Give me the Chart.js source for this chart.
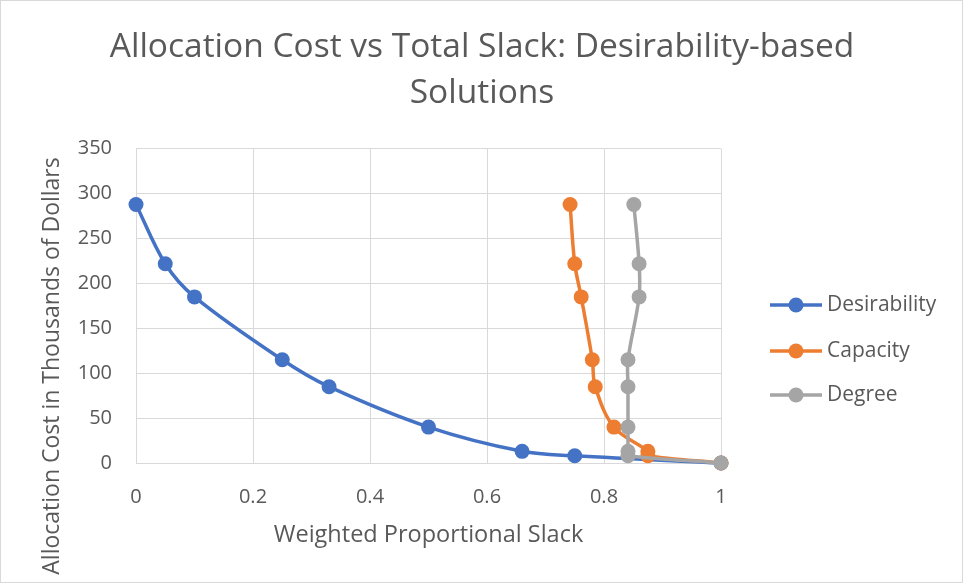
<!DOCTYPE html>
<html>
<head>
<meta charset="utf-8">
<script src="https://cdn.jsdelivr.net/npm/chart.js@4/dist/chart.umd.min.js"></script>
<style>
html,body{margin:0;padding:0;background:#fff;}
canvas{display:block;}
</style>
</head>
<body>
<canvas id="c" width="963" height="583"></canvas>
<script>
const costs = [288, 222, 185, 115, 85, 40, 13, 8, 0];
const desirabilitySlack = [0, 0.05, 0.1, 0.25, 0.33, 0.5, 0.66, 0.75, 1];
const capacitySlack = [0.742, 0.75, 0.761, 0.78, 0.785, 0.817, 0.875, 0.875, 1];
const degreeSlack = [0.851, 0.86, 0.86, 0.841, 0.841, 0.841, 0.841, 0.841, 1];
const seriesNames = ['Desirability', 'Capacity', 'Degree'];
const seriesColors = ['#4472c4', '#ed7d31', '#a5a5a5'];
const xTicks = [0, 0.2, 0.4, 0.6, 0.8, 1];
const yTicks = [0, 50, 100, 150, 200, 250, 300, 350];
const yTitle = 'Allocation Cost in Thousands of Dollars';

const FONT = 'Open Sans, Lato, sans-serif';
const txt = '#595959';
const grid = '#d9d9d9';

function pts(xs){ return xs.map((x,i)=>({x:x, y:costs[i]})); }
const allSlack = [desirabilitySlack, capacitySlack, degreeSlack];
const datasets = seriesNames.map((n,i)=>({
  label: n,
  data: pts(allSlack[i]),
  borderColor: seriesColors[i],
  backgroundColor: seriesColors[i],
  borderWidth: 3.5,
  pointRadius: 7.5,
  pointHoverRadius: 7.5,
  pointBorderWidth: 0,
  pointStyle: 'circle',
  showLine: true,
  tension: 0.35,
  clip: false,
  order: seriesNames.length - i
}));

const extras = {
  id: 'extras',
  afterDraw(chart){
    const ctx = chart.ctx;
    const ys = [305, 351, 395];
    ctx.save();
    chart.data.datasets.forEach((d,i)=>{
      const y = ys[i];
      ctx.strokeStyle = d.borderColor; ctx.lineWidth = 3.5;
      ctx.beginPath(); ctx.moveTo(770, y); ctx.lineTo(822, y); ctx.stroke();
      ctx.fillStyle = d.backgroundColor;
      ctx.beginPath(); ctx.arc(796, y, 7.5, 0, Math.PI*2); ctx.fill();
      ctx.fillStyle = txt; ctx.font = '21px ' + FONT; ctx.textBaseline = 'middle'; ctx.textAlign = 'left';
      ctx.fillText(d.label, 827, y);
    });
    // y axis title
    ctx.save();
    ctx.translate(52, 366);
    ctx.rotate(-Math.PI/2);
    ctx.fillStyle = txt; ctx.font = '23px ' + FONT; ctx.textAlign = 'center'; ctx.textBaseline = 'middle';
    ctx.fillText(yTitle, 0, 0);
    ctx.restore();
    ctx.strokeStyle = grid; ctx.lineWidth = 1;
    ctx.strokeRect(0.5, 0.5, chart.width - 1, chart.height - 1);
    ctx.restore();
  }
};

new Chart(document.getElementById('c'), {
  type: 'scatter',
  data: { datasets },
  plugins: [extras],
  options: {
    responsive: false,
    animation: false,
    layout: { padding: { left: 34, right: 33, top: 0, bottom: 34 } },
    plugins: {
      title: {
        display: true,
        text: ['Allocation Cost vs Total Slack: Desirability-based', 'Solutions'],
        color: txt,
        font: { family: FONT, size: 33.5, weight: 'normal', lineHeight: 1.355 },
        padding: { top: 25, bottom: 33 }
      },
      legend: { display: false },
      tooltip: { enabled: false }
    },
    scales: {
      x: {
        type: 'linear', min: 0, max: 1,
        afterBuildTicks: (s)=>{ s.ticks = xTicks.map(v=>({value:v})); },
        afterFit: (s)=>{ s.height = 86; },
        ticks: { color: txt, font: { family: FONT, size: 20 }, padding: 22,
          callback: v=> String(Math.round(v*10)/10) },
        grid: { color: grid, lineWidth: 1, drawTicks: false },
        border: { color: grid, width: 1 },
        title: { display: true, text: 'Weighted Proportional Slack', color: txt,
          font: { family: FONT, size: 23.5 }, padding: { top: 0, bottom: 0 } }
      },
      y: {
        type: 'linear', min: 0, max: 350,
        afterBuildTicks: (s)=>{ s.ticks = yTicks.map(v=>({value:v})); },
        afterFit: (s)=>{ s.width = 102; },
        ticks: { color: txt, font: { family: FONT, size: 20 }, padding: 24 },
        grid: { color: grid, lineWidth: 1, drawTicks: false },
        border: { color: grid, width: 1 },
        title: { display: false }
      },
      yRight: {
        type: 'linear', position: 'right', min: 0, max: 1,
        afterFit: (s)=>{ s.width = 209; },
        ticks: { display: false },
        grid: { display: false, drawOnChartArea: false, drawTicks: false },
        border: { display: false },
        title: { display: false }
      }
    }
  }
});
</script>
</body>
</html>
